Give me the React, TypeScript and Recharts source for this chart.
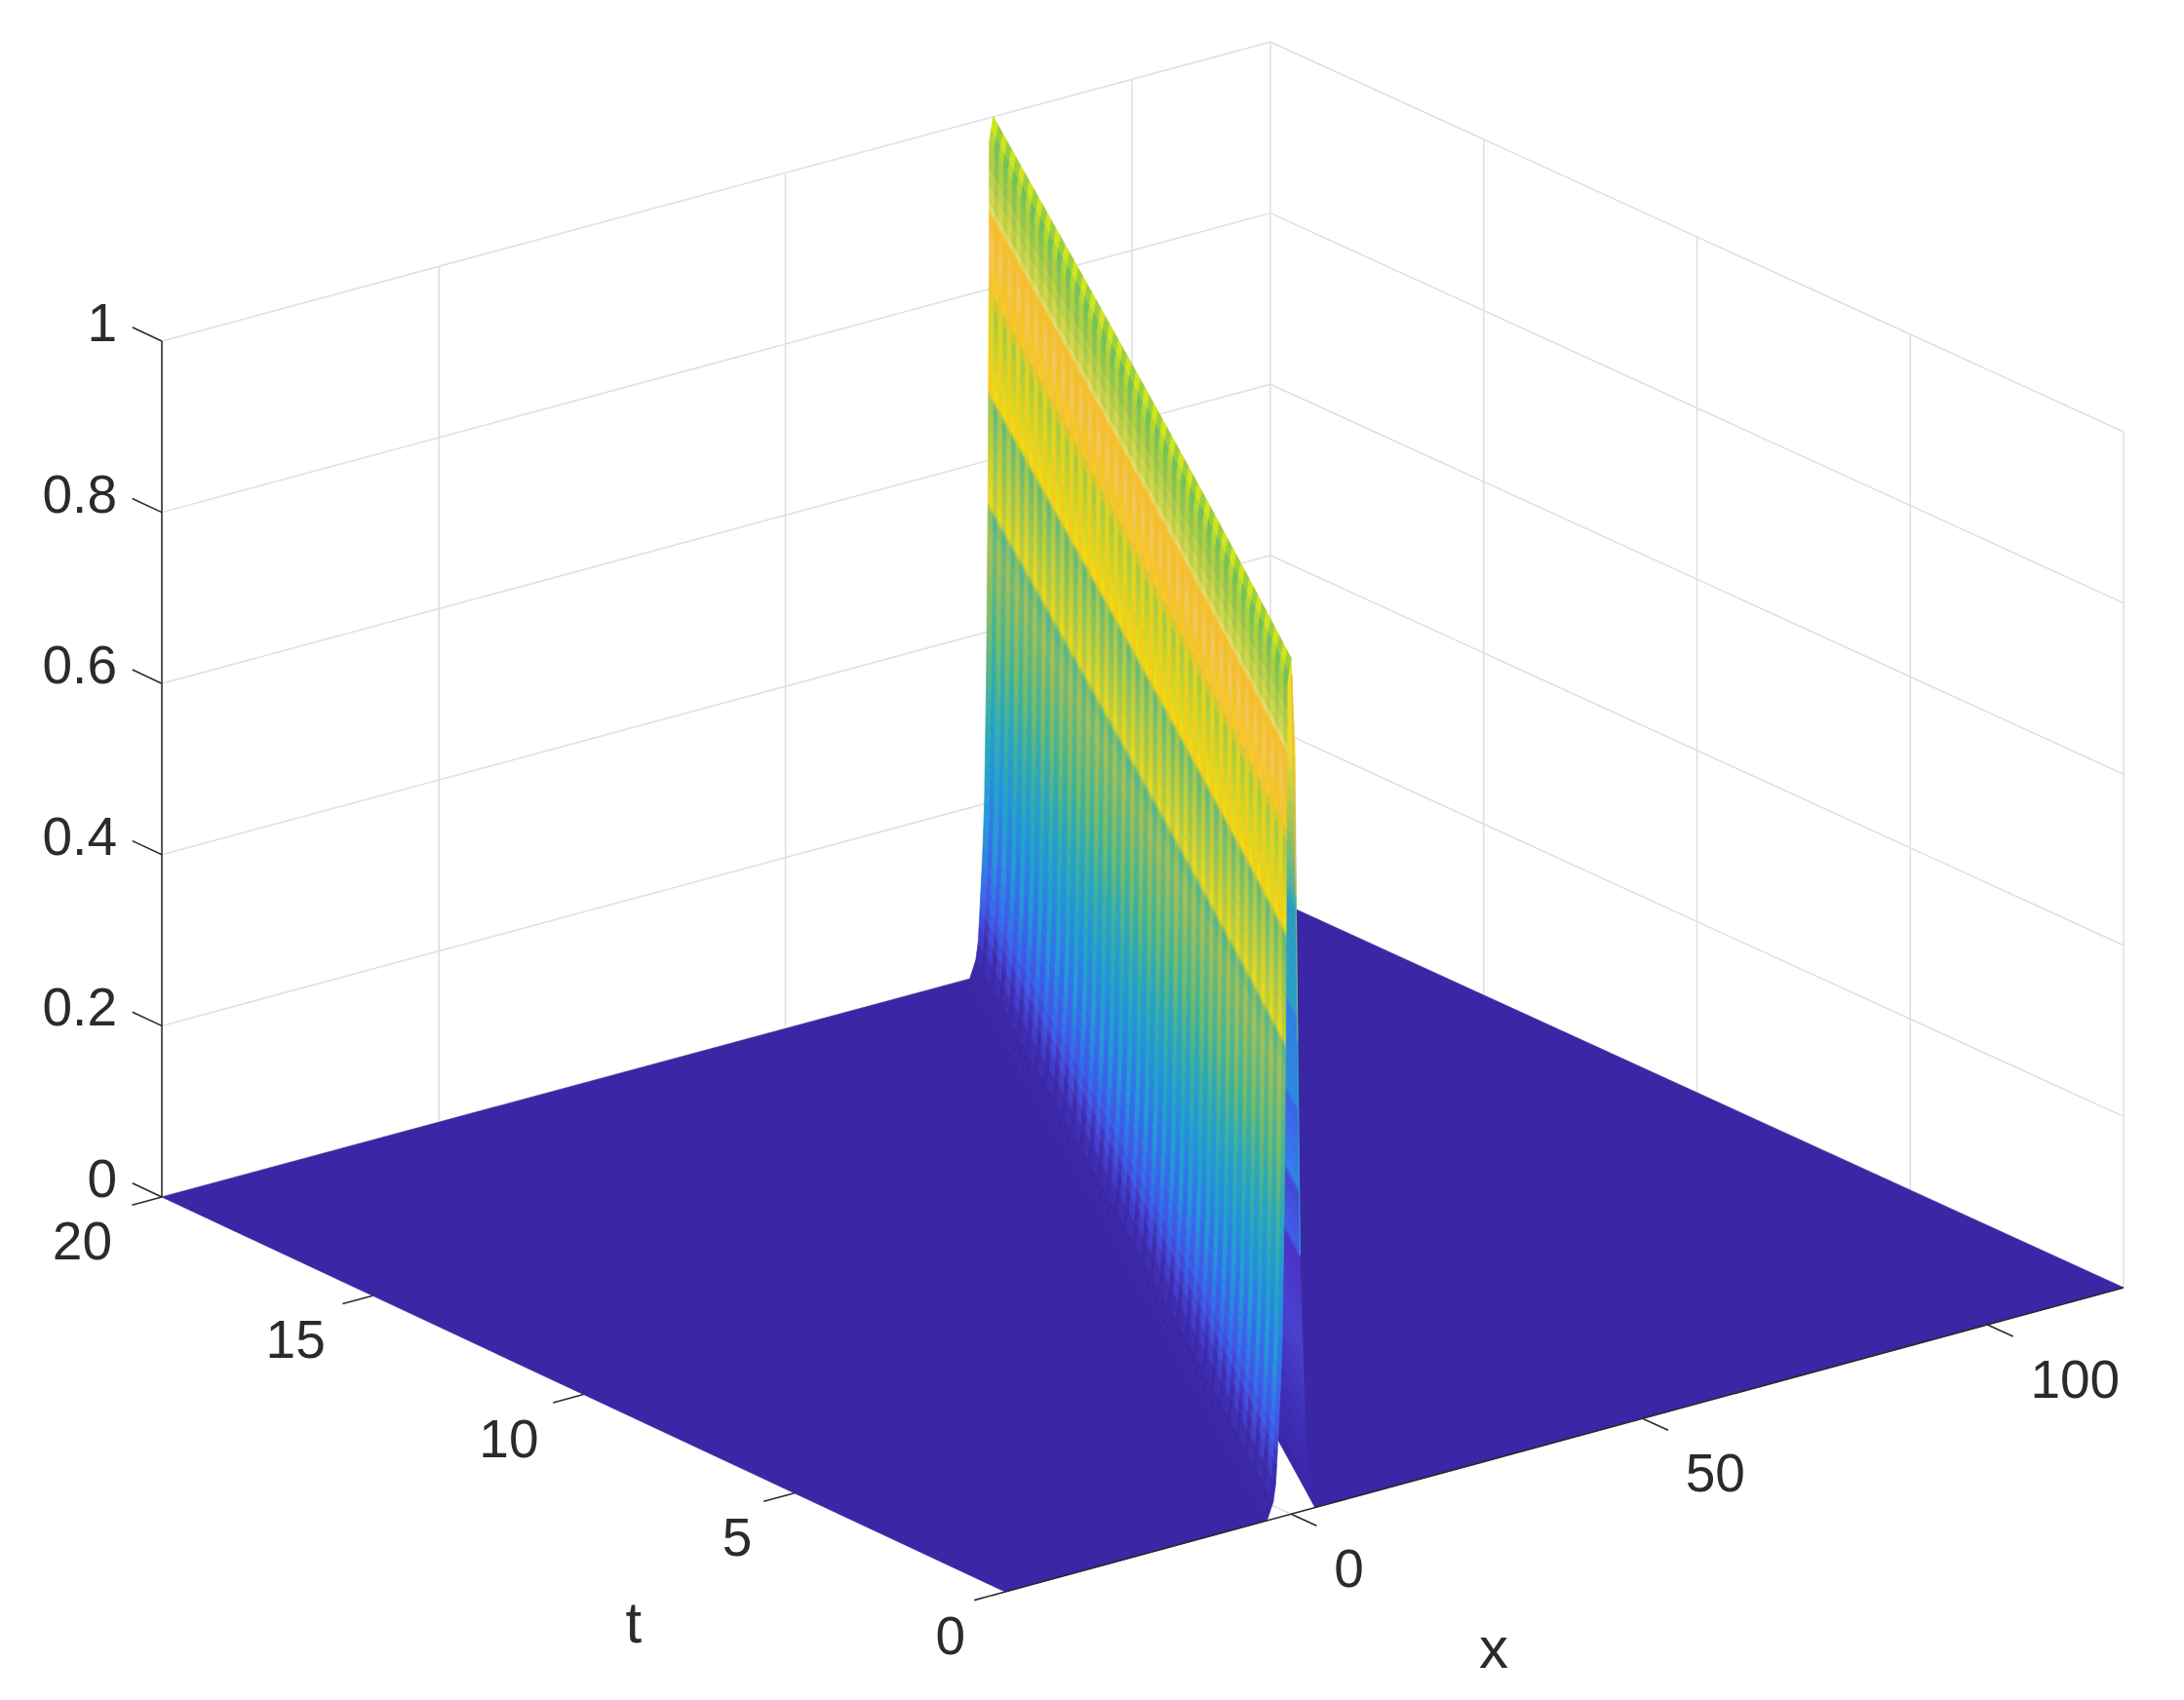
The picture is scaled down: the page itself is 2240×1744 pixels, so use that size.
import { ScatterChart, Scatter, XAxis, YAxis } from "recharts";

// travelling pulse profile, phase = x - 4t
const WAVE_SPEED = 4;
const LEFT_PHASE = [-3.4, -2.8, -2.25, -1.97, -1.55, -1.27, -0.99, -0.77, -0.63, -0.56, 0];
const LEFT_Z = [0, 0.01, 0.03, 0.07, 0.14, 0.2, 0.35, 0.55, 0.8, 0.975, 1];
const RIGHT_PHASE = [3.4, 2.25, 1.83, 1.27, 0.7, 0.56, 0];
const RIGHT_Z = [0, 0.06, 0.14, 0.29, 0.71, 0.89, 1];

// colour stops down the visible face, repeated z = jump between mesh rows
const LEVEL_Z = [1, 0.985, 0.96, 0.9, 0.892, 0.89, 0.85, 0.8, 0.787, 0.68, 0.675, 0.55, 0.545, 0.51, 0.4, 0.32, 0.245, 0.17, 0.095, 0.06, 0.02, 0];
const LEVEL_A = ["#c8e020", "#6cc060", "#84c254", "#c8d040", "#eedc70", "#f4be2c", "#f4be2c", "#f8cc1c", "#a4c844", "#f4de10", "#62ba78", "#c8d034", "#4cb694", "#74bb70", "#3eb39a", "#26a3c4", "#2690dc", "#3272ec", "#4454e4", "#3f2fb0", "#3b26a6", "#3b26a6"];
const LEVEL_B = ["#e8ec10", "#b8dc30", "#a8cc40", "#d8d858", "#f0e080", "#f4be2c", "#f2c860", "#f4c030", "#dcd624", "#f8cc18", "#a0c454", "#ecda1c", "#84be64", "#a8c058", "#74bc6c", "#3cb0a4", "#22a4c8", "#2898d8", "#3668ee", "#4444d8", "#3b26a6", "#3b26a6"];

const BACK_Z = [1, 0.88, 0.8, 0.72, 0.7, 0.58, 0.575, 0.47, 0.465, 0.375, 0.37, 0.3, 0.295, 0.2, 0.1, 0];
const BACK_COLOR = ["#e8e020", "#f0d830", "#a0c850", "#50b0a0", "#2c9ac0", "#2aa0c8", "#2f7fe0", "#2f8ae0", "#3a62ec", "#3580e8", "#4646d8", "#4060e8", "#4a32c8", "#4a42d0", "#3f30b8", "#3b26a6"];

// thin rim of the t = 0 cut on the far side of the pulse
const RIM_Z = [0.98, 0.72, 0.55, 0.3];
const RIM_COLOR = ["#f0b040", "#6fb98a", "#2a9cc8"];

const X_TICKS = [0, 50, 100];
const T_TICKS = [0, 5, 10, 15, 20];
const Z_TICKS = [0, 0.2, 0.4, 0.6, 0.8, 1];
const Z_LABELS = ["0", "0.2", "0.4", "0.6", "0.8", "1"];

const X_MIN = -40;
const X_MAX = 120;
const T_MAX = 20;
const T_COLUMNS = 68;

const FLOOR_COLOR = "#3b26a6";
const GRID_COLOR = "#dfdfdf";
const AXIS_COLOR = "#2b2b2b";
const TEXT_COLOR = "#2b2b2b";
const FONT = "'Liberation Sans', Arial, sans-serif";

type V3 = [number, number, number];
type Shape = { verts: V3[]; fill?: string; stroke?: string; width?: number };

// view of the 3-D box: corners of the floor in page pixels
function project(x: number, t: number, z: number) {
  const u = (x - X_MIN) / (X_MAX - X_MIN);
  const v = t / T_MAX;
  const w = u + 0.03 * u * (1 - u) * (1 - v);
  const px = (1 - w) * (1 - v) * 1031 + w * (1 - v) * 2178 + (1 - w) * v * 166 + w * v * 1303;
  const py = (1 - w) * (1 - v) * 1633 + w * (1 - v) * 1321 + (1 - w) * v * 1228 + w * v * 921;
  return { px, py: py - z * 878 };
}

function interp(xs: number[], ys: number[], x: number) {
  for (let i = 0; i < xs.length - 1; i++) {
    if (x >= xs[i] && x <= xs[i + 1]) {
      const f = xs[i + 1] === xs[i] ? 0 : (x - xs[i]) / (xs[i + 1] - xs[i]);
      return ys[i] + f * (ys[i + 1] - ys[i]);
    }
  }
  return ys[ys.length - 1];
}

function mix(a: string, b: string, f: number) {
  const ch = (s: string, i: number) => parseInt(s.slice(1 + i * 2, 3 + i * 2), 16);
  const out = [0, 1, 2].map((i) => Math.round(ch(a, i) + f * (ch(b, i) - ch(a, i))));
  return `rgb(${out[0]},${out[1]},${out[2]})`;
}

function faceShapes(phaseOf: (z: number) => number, zs: number[], colA: string[], colB: string[], columns: number) {
  const shapes: Shape[] = [];
  for (let k = 0; k < columns; k++) {
    const t0 = (T_MAX * k) / columns;
    const t1 = (T_MAX * (k + 1)) / columns;
    const cols = k % 2 === 0 ? colA : colB;
    for (let j = 0; j < zs.length - 1; j++) {
      const dz = zs[j] - zs[j + 1];
      if (dz <= 0) continue;
      const n = Math.max(1, Math.ceil(dz / 0.02));
      for (let s = 0; s < n; s++) {
        const zA = zs[j] - (dz * s) / n;
        const zB = zs[j] - (dz * (s + 1)) / n;
        const pA = phaseOf(zA);
        const pB = phaseOf(zB);
        const fill = mix(cols[j], cols[j + 1], (s + 0.5) / n);
        shapes.push({
          fill,
          stroke: fill,
          width: 0.7,
          verts: [
            [pA + WAVE_SPEED * t0, t0, zA],
            [pA + WAVE_SPEED * t1, t1, zA],
            [pB + WAVE_SPEED * t1, t1, zB],
            [pB + WAVE_SPEED * t0, t0, zB],
          ],
        });
      }
    }
  }
  return shapes;
}

const leftPhase = (z: number) => interp(LEFT_Z, LEFT_PHASE, z);
const rightPhase = (z: number) => interp(RIGHT_Z, RIGHT_PHASE, z);

function gridShapes() {
  const line = (a: V3, b: V3): Shape => ({ verts: [a, b], stroke: GRID_COLOR, width: 1.5 });
  const out: Shape[] = [];
  Z_TICKS.forEach((z) => {
    out.push(line([X_MIN, T_MAX, z], [X_MAX, T_MAX, z]));
    out.push(line([X_MAX, T_MAX, z], [X_MAX, 0, z]));
  });
  X_TICKS.forEach((x) => {
    out.push(line([x, T_MAX, 0], [x, T_MAX, 1]));
    out.push(line([x, 0, 0], [x, T_MAX, 0]));
  });
  T_TICKS.forEach((t) => {
    out.push(line([X_MAX, t, 0], [X_MAX, t, 1]));
    out.push(line([X_MIN, t, 0], [X_MAX, t, 0]));
  });
  return out;
}

function axisShapes() {
  const line = (a: V3, b: V3): Shape => ({ verts: [a, b], stroke: AXIS_COLOR, width: 1.6 });
  const out: Shape[] = [line([X_MIN, T_MAX, 0], [X_MIN, T_MAX, 1]), line([X_MIN, 0, 0], [X_MAX, 0, 0])];
  Z_TICKS.forEach((z) => out.push(line([X_MIN, T_MAX, z], [X_MIN, T_MAX + 0.7, z])));
  T_TICKS.forEach((t) => out.push(line([X_MIN, t, 0], [X_MIN - 4.3, t, 0])));
  X_TICKS.forEach((x) => out.push(line([x, 0, 0], [x, -0.6, 0])));
  return out;
}

function rimShapes() {
  return RIM_COLOR.map((stroke, i): Shape => ({
    stroke,
    width: 1.2,
    verts: [
      [rightPhase(RIM_Z[i]), 0, RIM_Z[i]],
      [rightPhase(RIM_Z[i + 1]), 0, RIM_Z[i + 1]],
    ],
  }));
}

// foot line of the pulse on the floor, one vertex per mesh column so no seam opens
function footLine(phase: number): V3[] {
  const out: V3[] = [];
  for (let k = 0; k <= T_COLUMNS; k++) {
    const t = (T_MAX * k) / T_COLUMNS;
    out.push([phase + WAVE_SPEED * t, t, 0]);
  }
  return out;
}

const floorShapes: Shape[] = [
  { fill: FLOOR_COLOR, verts: [[X_MAX, T_MAX, 0], [X_MAX, 0, 0], ...footLine(RIGHT_PHASE[0])] },
];
const frontFloorShapes: Shape[] = [
  { fill: FLOOR_COLOR, verts: [[X_MIN, T_MAX, 0], [X_MIN, 0, 0], ...footLine(LEFT_PHASE[0])] },
];

// Scatter hands its pixel points to `line`, so polygons go through the chart's own scales
function meshSeries(name: string, shapes: Shape[]) {
  const data = shapes.flatMap((s) => s.verts.map(([x, t, z]) => project(x, t, z)));
  const drawMesh = (props: any) => {
    const pts = props.points as { x: number; y: number }[];
    let at = 0;
    return (
      <g>
        {shapes.map((s, i) => {
          const part = pts.slice(at, at + s.verts.length);
          at += s.verts.length;
          const d = part.map((p, n) => `${n ? "L" : "M"}${p.x.toFixed(2)} ${p.y.toFixed(2)}`).join("") + (s.fill ? "Z" : "");
          return <path key={i} d={d} fill={s.fill ?? "none"} stroke={s.stroke ?? s.fill} strokeWidth={s.width ?? 0.7} />;
        })}
      </g>
    );
  };
  return <Scatter key={name} name={name} data={data} line={drawMesh} shape={() => <g />} isAnimationActive={false} />;
}

function labelSeries(name: string, data: any[], anchor: string, dx: number | ((label: string) => number), dy: number, size: number) {
  return (
    <Scatter
      key={name}
      name={name}
      data={data}
      isAnimationActive={false}
      shape={(p: any) => (
        <text
          x={p.cx + (typeof dx === "function" ? dx(p.payload.label) : dx)}
          y={p.cy + dy}
          textAnchor={anchor}
          fontFamily={FONT}
          fontSize={size}
          fill={TEXT_COLOR}
        >
          {p.payload.label}
        </text>
      )}
    />
  );
}

const zLabelData = Z_TICKS.map((z, i) => ({ ...project(X_MIN, T_MAX, z), label: Z_LABELS[i] }));
const tLabelData = T_TICKS.map((t) => ({ ...project(X_MIN, t, 0), label: String(t) }));
const xLabelData = X_TICKS.map((x) => ({ ...project(x, 0, 0), label: String(x) }));
const tTitleData = [{ ...project(X_MIN, 5, 0), label: "t" }];
const xTitleData = [{ ...project(40, 0, 0), label: "x" }];

export default function App() {
  return (
    <div style={{ position: "absolute", left: 0, top: 0, background: "#fff" }}>
      <ScatterChart width={2240} height={1744} margin={{ top: 0, right: 0, bottom: 0, left: 0 }}>
        <XAxis type="number" dataKey="px" domain={[0, 2240]} hide />
        <YAxis type="number" dataKey="py" domain={[0, 1744]} reversed hide />
        {meshSeries("grid", gridShapes())}
        {meshSeries("floor-back", floorShapes)}
        {meshSeries("face-back", faceShapes(rightPhase, BACK_Z, BACK_COLOR, BACK_COLOR, 1))}
        {meshSeries("rim", rimShapes())}
        {meshSeries("floor-front", frontFloorShapes)}
        {meshSeries("face-front", faceShapes(leftPhase, LEVEL_Z, LEVEL_A, LEVEL_B, T_COLUMNS))}
        {meshSeries("axes", axisShapes())}
        {labelSeries("z-labels", zLabelData, "end", -46, 0, 55)}
        {labelSeries("t-labels", tLabelData, "end", (label) => -41 - 0.5 * Number(label), 64, 55)}
        {labelSeries("x-labels", xLabelData, "start", 44, 75, 55)}
        {labelSeries("t-title", tTitleData, "middle", -165, 153, 60)}
        {labelSeries("x-title", xTitleData, "middle", -81, 236, 60)}
      </ScatterChart>
    </div>
  );
}
